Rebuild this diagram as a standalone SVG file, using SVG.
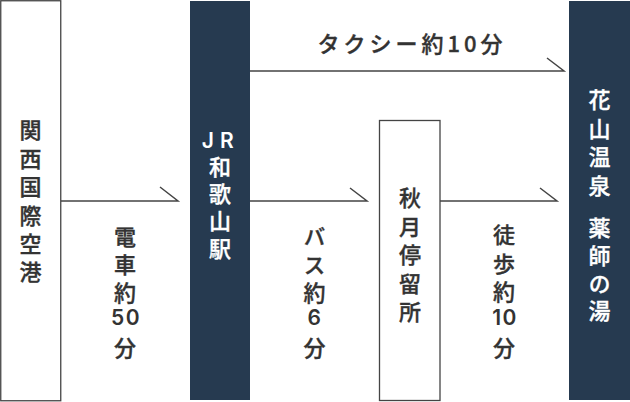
<svg xmlns="http://www.w3.org/2000/svg" width="630" height="402" viewBox="0 0 630 402">
<style>
.t{font-family:"Noto Sans CJK JP","Noto Sans",sans-serif;font-size:22px;font-weight:500;stroke-width:0.35}
.v{writing-mode:vertical-rl;text-orientation:upright}
.n{font-family:Inter,"Liberation Sans",sans-serif;font-size:21px;font-weight:600;text-anchor:middle;letter-spacing:1.5px}
.dk{fill:#333;stroke:#333}
.wt{fill:#fff;stroke:#fff}
.n.dk,.n.wt{stroke:none}
.light{fill:#fff;stroke:#444;stroke-width:1.3}
.dark{fill:#263a50}
.c{fill:none;stroke:#444;stroke-width:1.5}
</style>
<rect width="630" height="402" fill="#fff"/>
<g id="connectors">
<path class="c" d="M61 201H178L160 187"/>
<path class="c" d="M250 71H564L547 58"/>
<path class="c" d="M250 201H367L350 188"/>
<path class="c" d="M440 201H557L540 188"/>
<text class="t dk" x="412" y="51.5" text-anchor="middle" letter-spacing="4">タクシー約10分</text>
<text class="t v dk" x="125"><tspan x="125" y="225.5">電</tspan><tspan x="125" y="253.5">車</tspan><tspan x="125" y="281.5">約</tspan></text>
<text class="n dk" x="126" y="325">50</text>
<text class="t v dk" x="125" y="337">分</text>
<text class="t v dk" x="314.5"><tspan x="314.5" y="225.5">バ</tspan><tspan x="314.5" y="253.5">ス</tspan><tspan x="314.5" y="281.5">約</tspan></text>
<text class="n dk" x="315" y="325">6</text>
<text class="t v dk" x="314.5" y="337">分</text>
<text class="t v dk" x="504"><tspan x="504" y="224">徒</tspan><tspan x="504" y="252.2">歩</tspan><tspan x="504" y="280.4">約</tspan></text>
<text class="n dk" x="505" y="325">10</text>
<text class="t v dk" x="504" y="337">分</text>
</g>
<g id="kix">
<rect class="light" x="0.75" y="0.75" width="60" height="400"/>
<text class="t v dk" x="30.5"><tspan x="30.5" y="119">関</tspan><tspan x="30.5" y="147.4">西</tspan><tspan x="30.5" y="175.8">国</tspan><tspan x="30.5" y="204.2">際</tspan><tspan x="30.5" y="232.6">空</tspan><tspan x="30.5" y="261">港</tspan></text>
</g>
<g id="jr">
<rect class="dark" x="190" y="1" width="60" height="399"/>
<text class="n wt" y="148"><tspan x="208.5">J</tspan><tspan x="227.5">R</tspan></text>
<text class="t v wt" x="220"><tspan x="220" y="155.5">和</tspan><tspan x="220" y="182.8">歌</tspan><tspan x="220" y="210.1">山</tspan><tspan x="220" y="237.4">駅</tspan></text>
</g>
<g id="akizuki">
<rect class="light" x="379.5" y="120.5" width="60.5" height="280"/>
<text class="t v dk" x="410"><tspan x="410" y="187">秋</tspan><tspan x="410" y="215.4">月</tspan><tspan x="410" y="243.8">停</tspan><tspan x="410" y="272.2">留</tspan><tspan x="410" y="300.6">所</tspan></text>
</g>
<g id="hanayama">
<rect class="dark" x="569" y="1" width="61" height="399"/>
<text class="t v wt" x="599.5"><tspan x="599.5" y="89">花</tspan><tspan x="599.5" y="117.4">山</tspan><tspan x="599.5" y="145.8">温</tspan><tspan x="599.5" y="174.2">泉</tspan><tspan x="599.5" y="217">薬</tspan><tspan x="599.5" y="244.6">師</tspan><tspan x="599.5" y="272.2">の</tspan><tspan x="599.5" y="299.8">湯</tspan></text>
</g>
</svg>
